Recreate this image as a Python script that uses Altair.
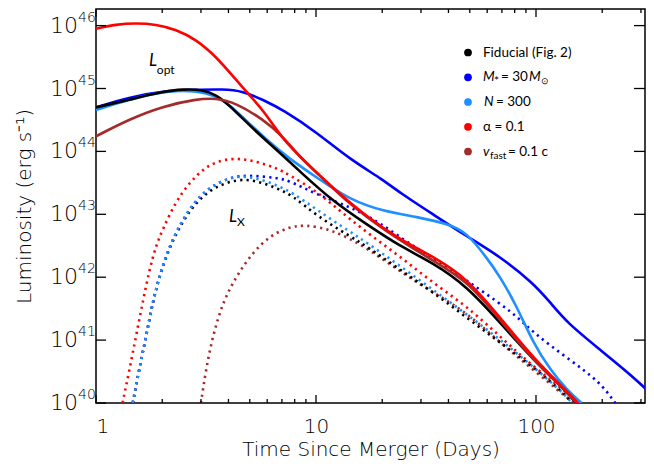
import altair as alt
import pandas as pd

# ---------------- data (time in days, log10 luminosity in erg/s) ----------------
FID_OPT_T = [1.00, 1.41, 2.02, 2.48, 3.06, 3.51, 4.02, 4.96, 6.12, 7.08, 8.46, 11.9, 17.0, 24.1, 34.0, 48.4, 68.6, 96.9, 138, 152]
FID_OPT_L = [44.70, 44.82, 44.95, 44.99, 44.98, 44.90, 44.74, 44.42, 44.13, 43.93, 43.68, 43.21, 42.84, 42.49, 42.23, 41.86, 41.28, 40.69, 40.18, 40.0]

M30_OPT_T = [1.00, 1.41, 2.02, 2.85, 3.77, 4.66, 5.74, 7.08, 10.1, 14.3, 20.2, 24.1, 34.0, 48.4, 68.6, 96.9, 116, 138, 195, 276, 344]
M30_OPT_L = [44.70, 44.86, 44.96, 44.98, 44.99, 44.96, 44.82, 44.66, 44.30, 43.87, 43.55, 43.34, 43.00, 42.65, 42.33, 41.91, 41.60, 41.28, 40.85, 40.42, 40.10]

N300_OPT_T = [1.00, 1.41, 2.02, 2.85, 3.51, 4.02, 4.96, 6.12, 7.54, 10.1, 14.3, 20.2, 28.7, 40.6, 48.4, 59.7, 68.6, 81.7, 96.9, 116, 138, 161]
N300_OPT_L = [44.66, 44.82, 44.96, 44.97, 44.88, 44.75, 44.45, 44.15, 43.89, 43.58, 43.23, 43.05, 42.96, 42.84, 42.71, 42.31, 42.01, 41.54, 40.96, 40.53, 40.21, 40.0]

ALPHA_OPT_T = [1.00, 1.23, 1.52, 1.87, 2.31, 2.85, 3.51, 4.33, 4.96, 5.74, 7.08, 8.46, 11.9, 17.0, 24.1, 34.0, 48.4, 68.6, 96.9, 138, 155]
ALPHA_OPT_L = [45.95, 46.02, 46.04, 46.02, 45.94, 45.78, 45.51, 45.14, 44.90, 44.66, 44.19, 43.92, 43.42, 42.96, 42.60, 42.33, 41.99, 41.36, 40.72, 40.19, 40.0]

VFAST_OPT_T = [1.00, 1.41, 2.02, 2.85, 3.51, 4.33, 5.74, 7.08, 8.46, 10.1, 14.3, 20.2, 34.0, 48.4, 68.6, 96.9, 138, 153]
VFAST_OPT_L = [44.24, 44.51, 44.72, 44.83, 44.85, 44.77, 44.51, 44.24, 43.90, 43.66, 43.15, 42.76, 42.26, 41.95, 41.33, 40.68, 40.18, 40.0]

FID_X_T = [1.47, 1.57, 1.69, 1.81, 1.94, 2.15, 2.48, 2.85, 3.39, 4.33, 5.34, 6.58, 7.84, 10.1, 14.3, 17.0, 24.1, 34.0, 48.4, 68.6, 96.9, 138, 145]
FID_X_L = [40.0, 40.53, 41.06, 41.60, 42.0, 42.47, 42.89, 43.19, 43.42, 43.56, 43.54, 43.42, 43.30, 42.97, 42.65, 42.49, 42.12, 41.76, 41.36, 40.96, 40.58, 40.12, 40.0]

N300_X_T = [1.47, 1.57, 1.69, 1.81, 1.94, 2.15, 2.48, 2.85, 3.39, 4.33, 5.34, 6.58, 7.84, 10.1, 14.3, 17.0, 24.1, 34.0, 48.4, 68.6, 96.9, 138, 145]
N300_X_L = [40.0, 40.53, 41.06, 41.60, 42.01, 42.49, 42.92, 43.23, 43.47, 43.62, 43.58, 43.47, 43.34, 43.07, 42.72, 42.55, 42.18, 41.80, 41.41, 41.01, 40.58, 40.11, 40.0]

M30_X_T = [1.47, 1.57, 1.69, 1.81, 1.94, 2.15, 2.48, 2.85, 3.39, 4.33, 5.34, 6.58, 7.54, 10.1, 14.3, 19.5, 27.6, 39.3, 55.6, 78.6, 96.9, 138, 195, 229]
M30_X_L = [40.0, 40.53, 41.06, 41.60, 42.01, 42.49, 42.92, 43.23, 43.47, 43.62, 43.61, 43.58, 43.54, 43.31, 43.12, 42.87, 42.49, 42.17, 41.80, 41.44, 41.12, 40.72, 40.34, 40.0]

ALPHA_X_T = [1.32, 1.42, 1.52, 1.63, 1.75, 1.87, 2.01, 2.31, 2.66, 3.05, 3.51, 4.33, 5.34, 6.58, 7.54, 10.1, 11.9, 17.0, 24.1, 34.0, 48.4, 68.6, 96.9, 138, 158]
ALPHA_X_L = [40.0, 40.53, 41.06, 41.60, 42.12, 42.49, 42.76, 43.21, 43.50, 43.71, 43.84, 43.90, 43.84, 43.74, 43.63, 43.36, 43.15, 42.71, 42.33, 41.91, 41.54, 41.06, 40.58, 40.17, 40.0]

VFAST_X_T = [3.00, 3.16, 3.39, 3.77, 4.33, 5.15, 6.14, 7.31, 8.75, 11.9, 17.0, 24.1, 34.0, 48.4, 68.6, 96.9, 138, 148]
VFAST_X_L = [40.0, 40.53, 41.06, 41.60, 42.01, 42.39, 42.65, 42.78, 42.84, 42.76, 42.47, 42.09, 41.76, 41.44, 40.96, 40.53, 40.09, 40.0]

COLORS = ["#000000", "#0000ff", "#1e90ff", "#ff0000", "#a52a2a"]

X_MAJOR = [1, 10, 100]
X_MINOR = [2, 3, 4, 5, 6, 7, 8, 9, 20, 30, 40, 50, 60, 70, 80, 90, 200, 300]
Y_EXP = [40, 41, 42, 43, 44, 45, 46]

# ---------------- layout ----------------
W, H = 549, 394
DEC_X = 220.0
DEC_Y = 62.9
XMAX = 10 ** (W / DEC_X)
YMAX = 10 ** (40 + H / DEC_Y)
FONT = "DejaVu Sans"
LFONT = "Lato"
TXT = "#000000"
AXW = 300

xs = alt.Scale(type="log", domain=[1, XMAX], nice=False)
ys = alt.Scale(type="log", domain=[1e40, YMAX], nice=False)

x_axis = alt.Axis(values=X_MAJOR, format="d", ticks=False, domain=False, grid=False,
                  labelFont=FONT, labelFontSize=20, labelFontWeight=AXW, labelColor=TXT,
                  labelPadding=13,
                  title="Time Since Merger (Days)", titleFont=FONT, titleFontSize=20,
                  titleFontWeight=AXW, titleColor=TXT, titlePadding=3)
y_axis = alt.Axis(values=[10.0 ** e for e in Y_EXP], labels=False, ticks=False, domain=False,
                  grid=False, title="Luminosity (erg s⁻¹)", titleFont=FONT, titleFontSize=20,
                  titleFontWeight=AXW, titleColor=TXT, titlePadding=62)


def X(field="t"):
    return alt.X(f"{field}:Q", scale=xs, axis=x_axis)


def Y(field="L"):
    return alt.Y(f"{field}:Q", scale=ys, axis=y_axis)


def frame(t, logl):
    return pd.DataFrame({"t": t, "L": [10.0 ** v for v in logl]})


def curve(t, logl, color, dotted=False):
    kw = dict(color=color, clip=True, interpolate="basis", strokeWidth=2.6)
    if dotted:
        kw.update(strokeDash=[2.2, 4.2])
    return alt.Chart(frame(t, logl)).mark_line(**kw).encode(x=X(), y=Y())


layers = []
# dotted X-ray curves
layers.append(curve(VFAST_X_T, VFAST_X_L, COLORS[4], True))
layers.append(curve(FID_X_T, FID_X_L, COLORS[0], True))
layers.append(curve(M30_X_T, M30_X_L, COLORS[1], True))
layers.append(curve(N300_X_T, N300_X_L, COLORS[2], True))
layers.append(curve(ALPHA_X_T, ALPHA_X_L, COLORS[3], True))
# solid optical curves
layers.append(curve(M30_OPT_T, M30_OPT_L, COLORS[1]))
layers.append(curve(N300_OPT_T, N300_OPT_L, COLORS[2]))
layers.append(curve(FID_OPT_T, FID_OPT_L, COLORS[0]))
layers.append(curve(VFAST_OPT_T, VFAST_OPT_L, COLORS[4]))
layers.append(curve(ALPHA_OPT_T, ALPHA_OPT_L, COLORS[3]))

# ticks (inward)
xmaj = pd.DataFrame({"t": X_MAJOR})
xmin = pd.DataFrame({"t": X_MINOR})
ymaj = pd.DataFrame({"L": [10.0 ** e for e in Y_EXP], "e": [str(e) for e in Y_EXP]})
for df, ln in ((xmaj, 8), (xmin, 4)):
    layers.append(alt.Chart(df).mark_rule(color="black", strokeWidth=1.3).encode(
        x=X(), y=alt.value(H), y2=alt.value(H - ln)))
    layers.append(alt.Chart(df).mark_rule(color="black", strokeWidth=1.3).encode(
        x=X(), y=alt.value(0), y2=alt.value(ln)))
layers.append(alt.Chart(ymaj).mark_rule(color="black", strokeWidth=1.3).encode(
    y=Y(), x=alt.value(0), x2=alt.value(10)))
layers.append(alt.Chart(ymaj).mark_rule(color="black", strokeWidth=1.3).encode(
    y=Y(), x=alt.value(W), x2=alt.value(W - 11)))

# y tick labels 10^n
layers.append(alt.Chart(ymaj).mark_text(font=FONT, fontSize=22, fontWeight=AXW, color=TXT,
                                        align="right", baseline="middle", text="10").encode(
    y=Y(), x=alt.value(-18)))
layers.append(alt.Chart(ymaj).mark_text(font=FONT, fontSize=14, fontWeight=AXW, color=TXT,
                                        align="left", baseline="middle", dy=-8).encode(
    y=Y(), x=alt.value(-18), text="e:N"))

# curve annotations
ann_main = pd.DataFrame({"t": [1.74, 4.02], "L": [10 ** 45.43, 10 ** 42.96], "s": ["L", "L"]})
ann_sub = pd.DataFrame({"t": [1.89, 4.37], "L": [10 ** 45.30, 10 ** 42.88], "s": ["opt", "X"]})
layers.append(alt.Chart(ann_main).mark_text(font=LFONT, fontSize=17, fontStyle="italic",
                                            color="black", align="left", baseline="middle").encode(
    x=X(), y=Y(), text="s:N"))
layers.append(alt.Chart(ann_sub).mark_text(font=LFONT, fontSize=12, color="black",
                                           align="left", baseline="middle").encode(
    x=X(), y=Y(), text="s:N"))

# legend (custom)
LEG_X_DOT = 372
LEG_X_TXT = 387
LEG_Y = [43.5, 68.3, 93.0, 117.8, 142.5]
one = pd.DataFrame({"a": [0]})
for i, c in enumerate(COLORS):
    layers.append(alt.Chart(one).mark_circle(color=c, opacity=1, size=60).encode(
        x=alt.value(LEG_X_DOT), y=alt.value(LEG_Y[i])))


def ltext(txt, x, y, size=13.5, style="normal", dy=0):
    return alt.Chart(one).mark_text(text=txt, font=LFONT, fontSize=size, fontStyle=style,
                                    color="black", align="left", baseline="middle",
                                    dy=dy).encode(x=alt.value(x), y=alt.value(y))


layers += [
    ltext("Fiducial (Fig. 2)", LEG_X_TXT, LEG_Y[0]),
    ltext("M", LEG_X_TXT, LEG_Y[1], style="italic"),
    ltext("*", LEG_X_TXT + 11, LEG_Y[1], size=12, dy=4),
    ltext("= 30", LEG_X_TXT + 18, LEG_Y[1]),
    ltext("M", LEG_X_TXT + 46, LEG_Y[1], style="italic"),
    ltext("⊙", LEG_X_TXT + 58, LEG_Y[1], size=9, dy=4),
    ltext("N", LEG_X_TXT + 1, LEG_Y[2], style="italic"),
    ltext("= 300", LEG_X_TXT + 13, LEG_Y[2]),
    ltext("α = 0.1", LEG_X_TXT, LEG_Y[3]),
    ltext("v", LEG_X_TXT, LEG_Y[4], style="italic"),
    ltext("fast", LEG_X_TXT + 7, LEG_Y[4], size=10, dy=4),
    ltext("= 0.1 c", LEG_X_TXT + 25, LEG_Y[4]),
]

chart = alt.layer(*layers).properties(
    width=W, height=H,
    padding={"left": 88, "top": 1, "right": 1, "bottom": 60},
    autosize=alt.AutoSizeParams(type="none"),
).configure_view(stroke="black", strokeWidth=1.5)

chart.save("out.html", embed_options={"renderer": "svg", "actions": False})
